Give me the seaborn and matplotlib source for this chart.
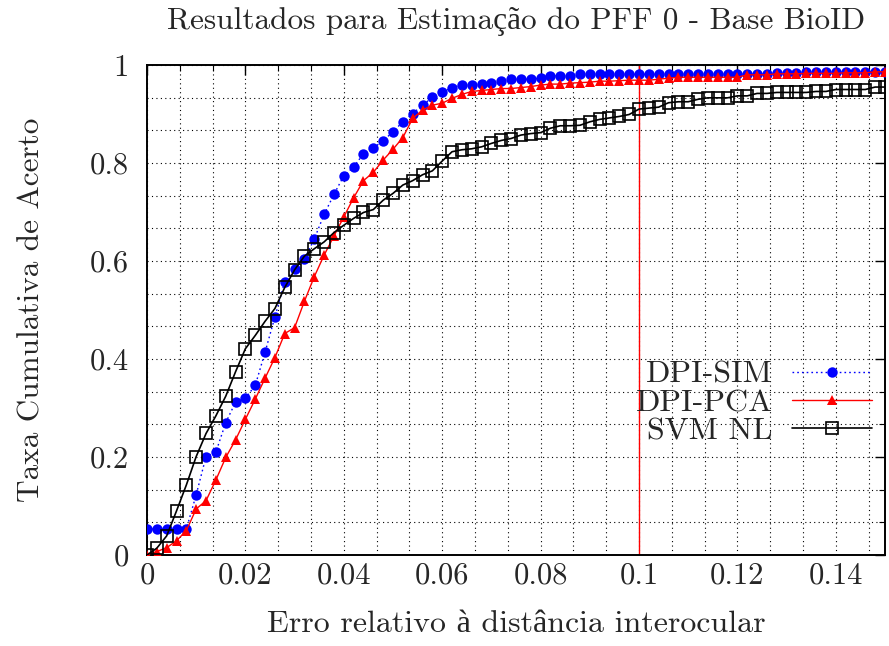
import numpy as np
import pandas as pd
import matplotlib
matplotlib.use("Agg")
import matplotlib.pyplot as plt
import seaborn as sns
from matplotlib.ticker import FixedLocator

# ---- data -------------------------------------------------------------
x_err = np.round(np.arange(76) * 0.002, 3)

dpi_sim = [0.053, 0.053, 0.053, 0.053, 0.053, 0.123, 0.201, 0.210, 0.270, 0.312,
           0.320, 0.346, 0.414, 0.486, 0.558, 0.584, 0.604, 0.645, 0.695, 0.736,
           0.774, 0.792, 0.819, 0.831, 0.845, 0.864, 0.884, 0.901, 0.918, 0.934,
           0.944, 0.954, 0.959, 0.959, 0.961, 0.963, 0.968, 0.971, 0.971, 0.971,
           0.973, 0.978, 0.978, 0.978, 0.981, 0.981, 0.981, 0.981, 0.981, 0.981,
           0.981, 0.981, 0.981, 0.981, 0.981, 0.981, 0.981, 0.981, 0.981, 0.981,
           0.981, 0.981, 0.981, 0.981, 0.984, 0.984, 0.984, 0.986, 0.986, 0.986,
           0.986, 0.986, 0.986, 0.986, 0.986, 0.986]

dpi_pca = [0.000, 0.007, 0.015, 0.029, 0.050, 0.094, 0.111, 0.153, 0.199, 0.235,
           0.277, 0.318, 0.361, 0.403, 0.452, 0.464, 0.518, 0.568, 0.612, 0.651,
           0.690, 0.729, 0.764, 0.781, 0.806, 0.828, 0.852, 0.891, 0.908, 0.918,
           0.922, 0.932, 0.940, 0.946, 0.948, 0.950, 0.952, 0.952, 0.954, 0.956,
           0.959, 0.961, 0.961, 0.963, 0.964, 0.965, 0.967, 0.967, 0.968, 0.969,
           0.969, 0.969, 0.971, 0.973, 0.975, 0.975, 0.975, 0.975, 0.975, 0.975,
           0.975, 0.980, 0.980, 0.980, 0.982, 0.982, 0.982, 0.983, 0.983, 0.983,
           0.983, 0.984, 0.984, 0.984, 0.986, 0.986]

svm_nl = [0.000, 0.014, 0.039, 0.090, 0.143, 0.201, 0.248, 0.284, 0.324, 0.374,
          0.421, 0.448, 0.477, 0.503, 0.546, 0.582, 0.610, 0.625, 0.639, 0.658,
          0.673, 0.687, 0.699, 0.705, 0.724, 0.738, 0.755, 0.764, 0.776, 0.784,
          0.804, 0.823, 0.827, 0.829, 0.833, 0.840, 0.846, 0.850, 0.857, 0.860,
          0.862, 0.871, 0.876, 0.876, 0.877, 0.884, 0.889, 0.892, 0.895, 0.899,
          0.910, 0.912, 0.914, 0.923, 0.925, 0.925, 0.930, 0.933, 0.933, 0.933,
          0.937, 0.937, 0.942, 0.942, 0.944, 0.944, 0.944, 0.944, 0.946, 0.946,
          0.950, 0.950, 0.950, 0.950, 0.955, 0.955]

series_names = ["DPI-SIM", "DPI-PCA", "SVM NL"]
x_ticks = [0, 0.02, 0.04, 0.06, 0.08, 0.1, 0.12, 0.14]
x_tick_labels = ["0", "0.02", "0.04", "0.06", "0.08", "0.1", "0.12", "0.14"]
y_ticks = [0, 0.2, 0.4, 0.6, 0.8, 1.0]
y_tick_labels = ["0", "0.2", "0.4", "0.6", "0.8", "1"]
threshold = 0.1

title = "Resultados para Estimação do PFF 0 - Base BioID"
xlabel = "Erro relativo à distância interocular"
ylabel = "Taxa Cumulativa de Acerto"

# ---- style ------------------------------------------------------------
sns.set_theme(style="white")
plt.rcParams["font.family"] = ["cmr10", "Liberation Serif"]
plt.rcParams["axes.formatter.use_mathtext"] = True
plt.rcParams["mathtext.fontset"] = "cm"

fig = plt.figure(figsize=(8.89, 6.46), dpi=100)
ax = fig.add_axes([147 / 889, 1 - 555 / 646, (885 - 147) / 889, (555 - 65) / 646])

df = pd.DataFrame({"x": x_err, "DPI-SIM": dpi_sim, "DPI-PCA": dpi_pca, "SVM NL": svm_nl})

sns.lineplot(data=df, x="x", y="DPI-SIM", ax=ax, color="blue", linestyle=(0, (1.2, 2.2)),
             linewidth=1.0, marker="o", markersize=7.5, markeredgewidth=0,
             markerfacecolor="blue", label=series_names[0], sort=False, errorbar=None, zorder=3)
sns.lineplot(data=df, x="x", y="DPI-PCA", ax=ax, color="red", linestyle="-",
             linewidth=1.0, marker="^", markersize=7.5, markeredgewidth=0,
             markerfacecolor="red", label=series_names[1], sort=False, errorbar=None, zorder=4)
sns.lineplot(data=df, x="x", y="SVM NL", ax=ax, color="black", linestyle="-",
             linewidth=1.2, marker="s", markersize=8.5, markeredgewidth=1.2,
             markerfacecolor="none", markeredgecolor="black", label=series_names[2],
             sort=False, errorbar=None, zorder=5)

ax.axvline(threshold, color="red", linewidth=1.0, zorder=2)

ax.set_xlim(0, 0.15)
ax.set_ylim(0, 1)
ax.set_xticks(x_ticks)
ax.set_xticklabels(x_tick_labels)
ax.set_yticks(y_ticks)
ax.set_yticklabels(y_tick_labels)
ax.xaxis.set_minor_locator(FixedLocator([i * 0.02 / 3 for i in range(23)]))
ax.yaxis.set_minor_locator(FixedLocator([i * 0.2 / 3 for i in range(16)]))

ax.grid(True, which="both", color="black", linestyle=(0, (1, 3)), linewidth=0.8, zorder=0)
ax.set_axisbelow(True)

ax.tick_params(which="both", direction="in", top=True, right=True, color="black",
               labelsize=22)
ax.tick_params(which="major", length=7, width=1.0)
ax.tick_params(which="minor", length=4, width=0.8)
ax.tick_params(axis="x", pad=5)
ax.tick_params(axis="y", pad=13)

for s in ax.spines.values():
    s.set_color("black")
    s.set_linewidth(1.4)

ax.set_title(title, fontsize=22.5, pad=26)
ax.set_xlabel(xlabel, fontsize=23)
ax.set_ylabel(ylabel, fontsize=22.5)
ax.xaxis.set_label_coords(0.5, (555 - 611) / 490)
ax.yaxis.set_label_coords((46 - 147) / 738, 0.5)

leg = ax.legend(loc="center right", bbox_to_anchor=((872 - 147) / 738, (555 - 403) / 490),
                markerfirst=False, frameon=False, handlelength=2.5, fontsize=23,
                borderpad=0, borderaxespad=0, labelspacing=0.0, handletextpad=0.6)

fig.savefig("out.png", dpi=100)
